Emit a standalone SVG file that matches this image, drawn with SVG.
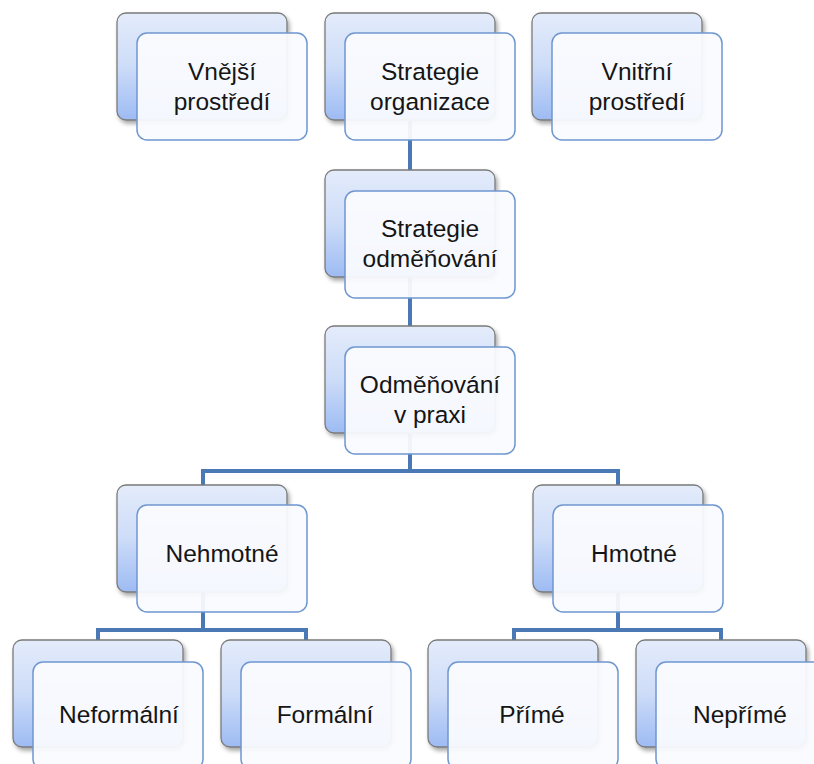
<svg xmlns="http://www.w3.org/2000/svg" width="814" height="764" viewBox="0 0 814 764">
<defs>
<linearGradient id="bg" x1="0" y1="0" x2="0" y2="1">
<stop offset="0" stop-color="#e4ecfb"/>
<stop offset="0.5" stop-color="#cddcf8"/>
<stop offset="1" stop-color="#9dbbf3"/>
</linearGradient>
<filter id="sh" x="-10%" y="-10%" width="125%" height="130%">
<feDropShadow dx="2" dy="3" stdDeviation="2.2" flood-color="#000" flood-opacity="0.35"/>
</filter>
</defs>
<style>
.back{fill:url(#bg);stroke:#7a7a7a;stroke-width:1.3;filter:url(#sh)}
.front{fill:#fafbfe;fill-opacity:0.94;stroke:#6f97cf;stroke-width:1.5}
.conn{fill:none;stroke:#4a79b5;stroke-width:4}
text{font-family:"Liberation Sans",Arial,sans-serif;font-size:24.5px;fill:#151515;text-anchor:middle}
</style>
<rect width="814" height="764" fill="#ffffff"/>
<g id="connectors">
<path class="conn" d="M410,120 V170"/>
<path class="conn" d="M410,277 V326"/>
<path class="conn" d="M410,433 V471 M203,471 H618 M203,469 V485 M618,469 V485"/>
<path class="conn" d="M203,592 V630 M98,630 H306 M98,628 V640 M306,628 V640"/>
<path class="conn" d="M618,592 V630 M514,630 H721 M514,628 V640 M721,628 V640"/>
</g>
<g id="n1"><rect class="back" x="117" y="13" width="170" height="107" rx="9"/><rect class="front" x="137" y="33" width="170" height="107" rx="10"/><text x="222" y="80">Vnější</text><text x="222" y="110">prostředí</text></g>
<g id="n2"><rect class="back" x="325" y="13" width="170" height="107" rx="9"/><rect class="front" x="345" y="33" width="170" height="107" rx="10"/><text x="430" y="80">Strategie</text><text x="430" y="110">organizace</text></g>
<g id="n3"><rect class="back" x="532" y="13" width="170" height="107" rx="9"/><rect class="front" x="552" y="33" width="170" height="107" rx="10"/><text x="637" y="80">Vnitřní</text><text x="637" y="110">prostředí</text></g>
<g id="n4"><rect class="back" x="325" y="170" width="170" height="107" rx="9"/><rect class="front" x="345" y="191" width="170" height="107" rx="10"/><text x="430" y="237">Strategie</text><text x="430" y="267">odměňování</text></g>
<g id="n5"><rect class="back" x="325" y="326" width="170" height="107" rx="9"/><rect class="front" x="345" y="347" width="170" height="107" rx="10"/><text x="430" y="393">Odměňování</text><text x="430" y="423">v praxi</text></g>
<g id="n6"><rect class="back" x="117" y="485" width="170" height="107" rx="9"/><rect class="front" x="137" y="505" width="170" height="107" rx="10"/><text x="222" y="562">Nehmotné</text></g>
<g id="n7"><rect class="back" x="533" y="485" width="170" height="107" rx="9"/><rect class="front" x="553" y="505" width="170" height="107" rx="10"/><text x="634" y="562">Hmotné</text></g>
<g id="n8"><rect class="back" x="13" y="640" width="170" height="107" rx="9"/><rect class="front" x="33" y="662" width="170" height="107" rx="10"/><text x="119" y="723">Neformální</text></g>
<g id="n9"><rect class="back" x="221" y="640" width="170" height="107" rx="9"/><rect class="front" x="241" y="662" width="170" height="107" rx="10"/><text x="325" y="723">Formální</text></g>
<g id="n10"><rect class="back" x="428" y="640" width="170" height="107" rx="9"/><rect class="front" x="448" y="662" width="170" height="107" rx="10"/><text x="532" y="723">Přímé</text></g>
<g id="n11"><rect class="back" x="636" y="640" width="170" height="107" rx="9"/><rect class="front" x="656" y="662" width="170" height="107" rx="10"/><text x="740" y="723">Nepřímé</text></g>
</svg>
